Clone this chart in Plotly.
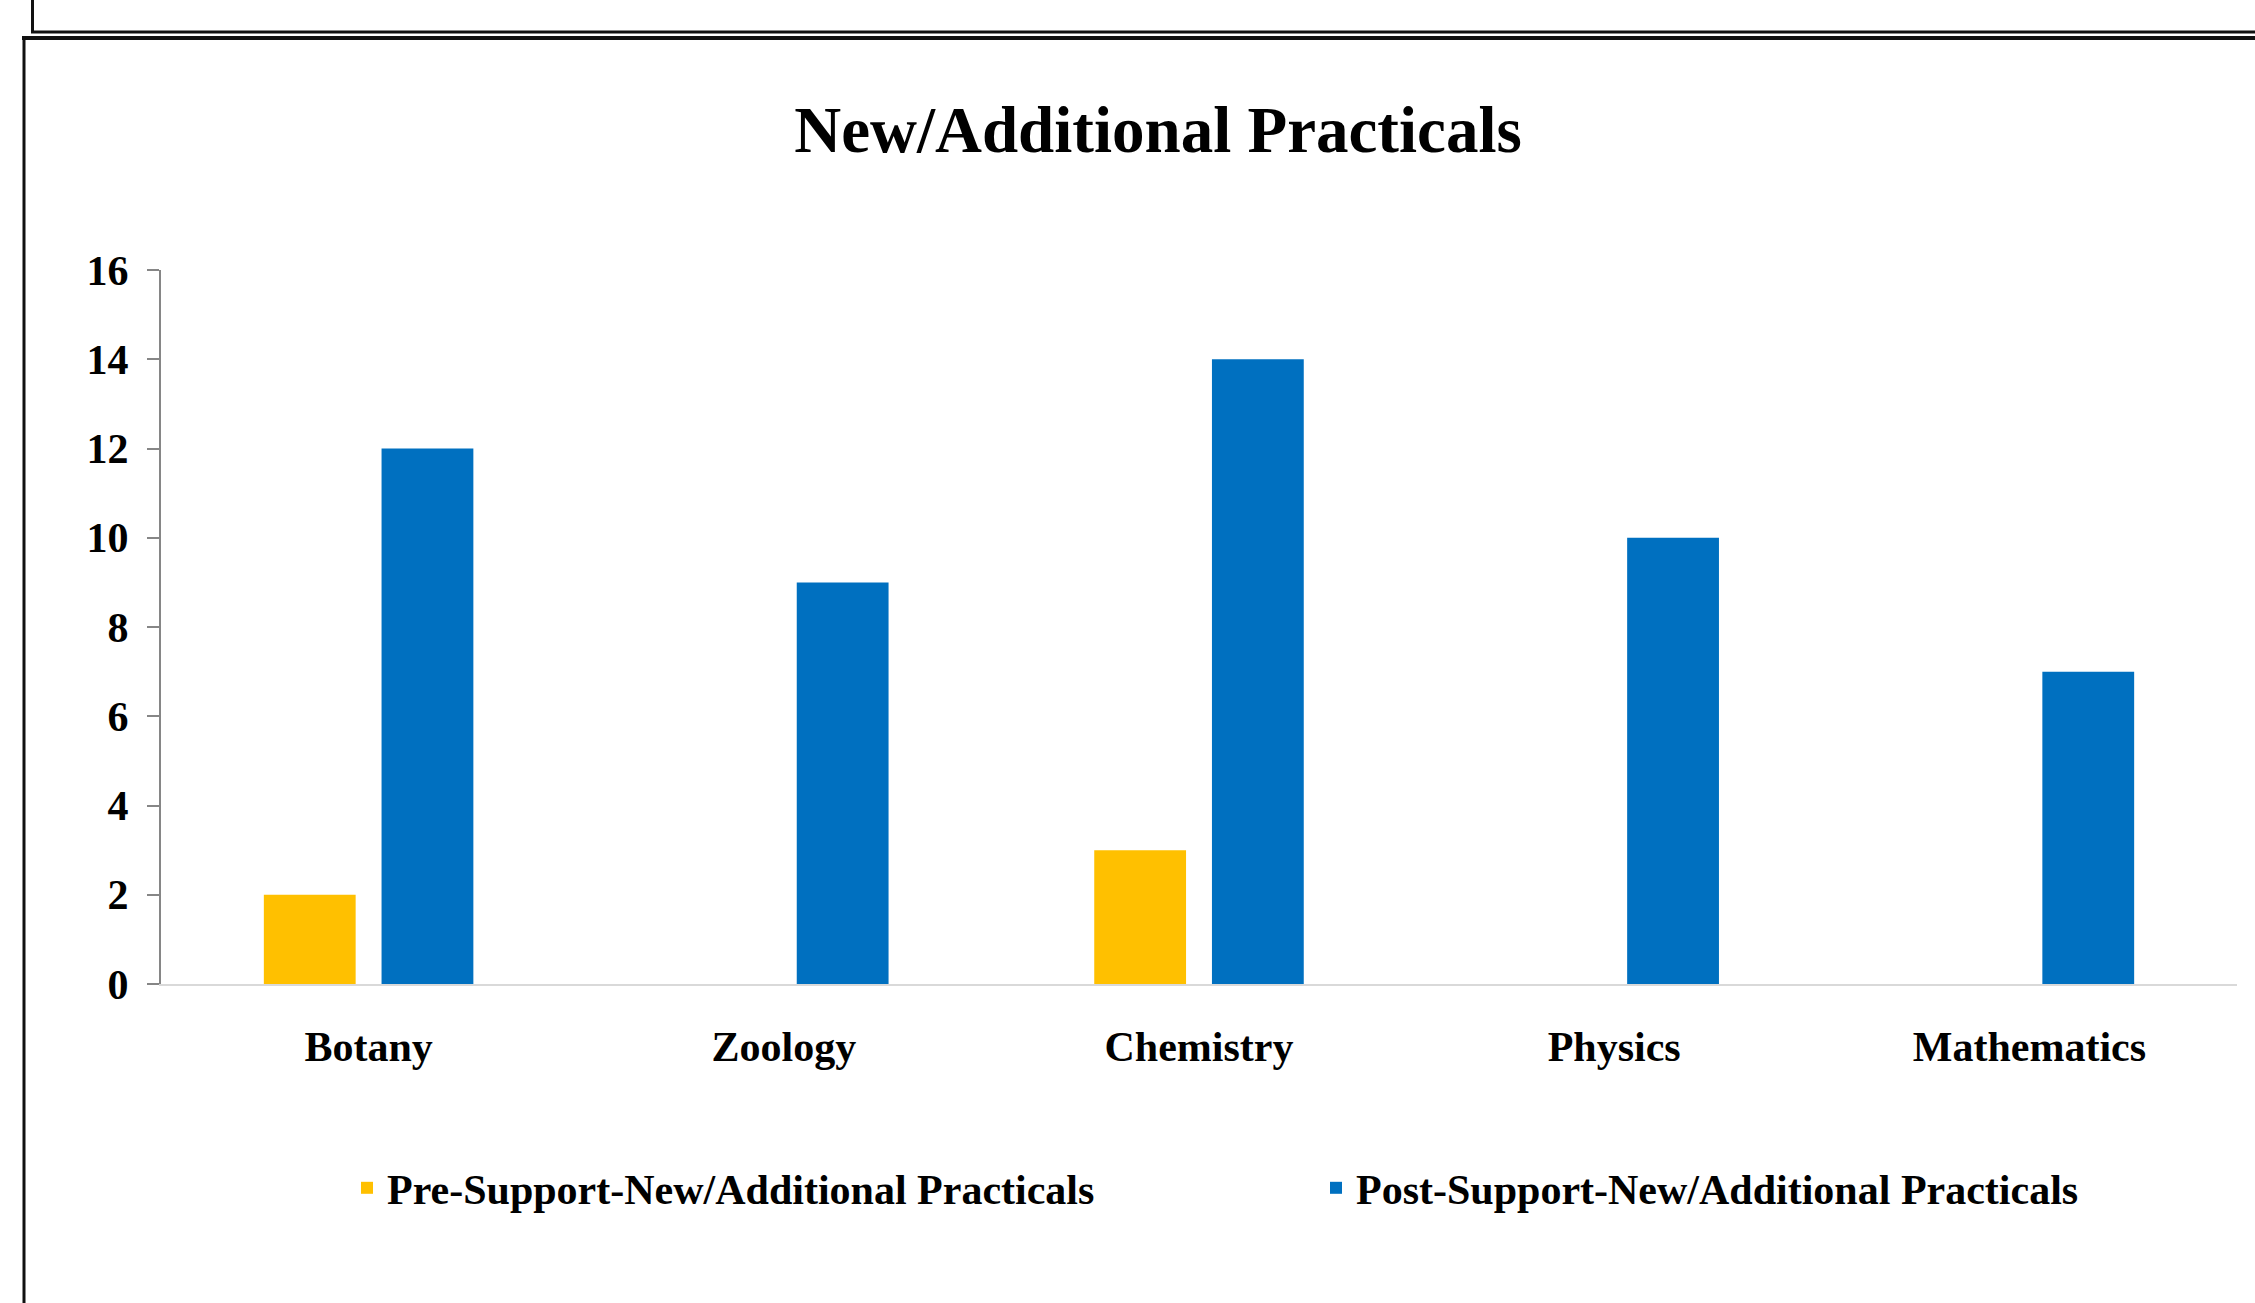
import plotly.graph_objects as go

categories = ["Botany", "Zoology", "Chemistry", "Physics", "Mathematics"]
pre_support = [2, 0, 3, 0, 0]
post_support = [12, 9, 14, 10, 7]
series_names = ["Pre-Support-New/Additional Practicals", "Post-Support-New/Additional Practicals"]
y_ticks = [0, 2, 4, 6, 8, 10, 12, 14, 16]
title_text = "New/Additional Practicals"

W, H = 2255, 1303
ML, MR, MT, MB = 161, 18, 270, 319
PW, PH = W - ML - MR, H - MT - MB

def px(x):
    return (x - ML) / PW

def py(y):
    return (H - MB - y) / PH

FONT = "Liberation Serif"

fig = go.Figure()
fig.add_trace(go.Bar(x=categories, y=pre_support, name=series_names[0], legend="legend",
                     marker=dict(color="#FFC000", line=dict(width=0))))
fig.add_trace(go.Bar(x=categories, y=post_support, name=series_names[1], legend="legend2",
                     marker=dict(color="#0070C0", line=dict(width=0))))

shapes = [
    # upper frame
    dict(type="line", xref="paper", yref="paper", x0=px(32.5), x1=px(32.5), y0=py(-5), y1=py(33), line=dict(color="#111", width=3)),
    dict(type="line", xref="paper", yref="paper", x0=px(31), x1=px(W + 10), y0=py(32), y1=py(32), line=dict(color="#111", width=3)),
    # lower frame
    dict(type="line", xref="paper", yref="paper", x0=px(22), x1=px(W + 10), y0=py(38), y1=py(38), line=dict(color="#111", width=4)),
    dict(type="line", xref="paper", yref="paper", x0=px(24), x1=px(24), y0=py(37), y1=py(H + 10), line=dict(color="#111", width=3)),
]

legend_font = dict(family=FONT, size=42, color="black", weight="bold")

fig.update_layout(
    width=W, height=H,
    margin=dict(l=ML, r=MR, t=MT, b=MB, pad=0),
    paper_bgcolor="white", plot_bgcolor="white",
    barmode="group", bargap=0.433, bargroupgap=0.22,
    font=dict(family=FONT, color="black"),
    title=dict(text="<b>" + title_text + "</b>", x=px(1158), xanchor="center",
               xref="paper", y=1 - 129 / H, yanchor="middle", yref="container",
               font=dict(family=FONT, size=65, color="black")),
    xaxis=dict(showline=True, linecolor="#D9D9D9", linewidth=2, ticks="",
               showgrid=False, zeroline=False, range=[-0.5, 4.5],
               tickfont=dict(family=FONT, size=42, color="black", weight="bold"),
               ticklabelstandoff=25),
    yaxis=dict(range=[0, 16], tickvals=y_ticks, showline=True, linecolor="#868686",
               linewidth=2, ticks="outside", ticklen=12, tickwidth=2, tickcolor="#868686",
               showgrid=False, zeroline=False,
               tickfont=dict(family=FONT, size=42, color="black", weight="bold"),
               ticklabelstandoff=10),
    legend=dict(orientation="h", x=px(347), xanchor="left", y=py(1188), yanchor="middle",
                font=legend_font, bgcolor="rgba(0,0,0,0)"),
    legend2=dict(orientation="h", x=px(1316), xanchor="left", y=py(1188), yanchor="middle",
                 font=legend_font, bgcolor="rgba(0,0,0,0)"),
    shapes=shapes,
    showlegend=True,
)

fig.write_html("out.html", config={"displayModeBar": False},
               post_script="document.body.style.margin='0';document.body.style.overflow='hidden';")
